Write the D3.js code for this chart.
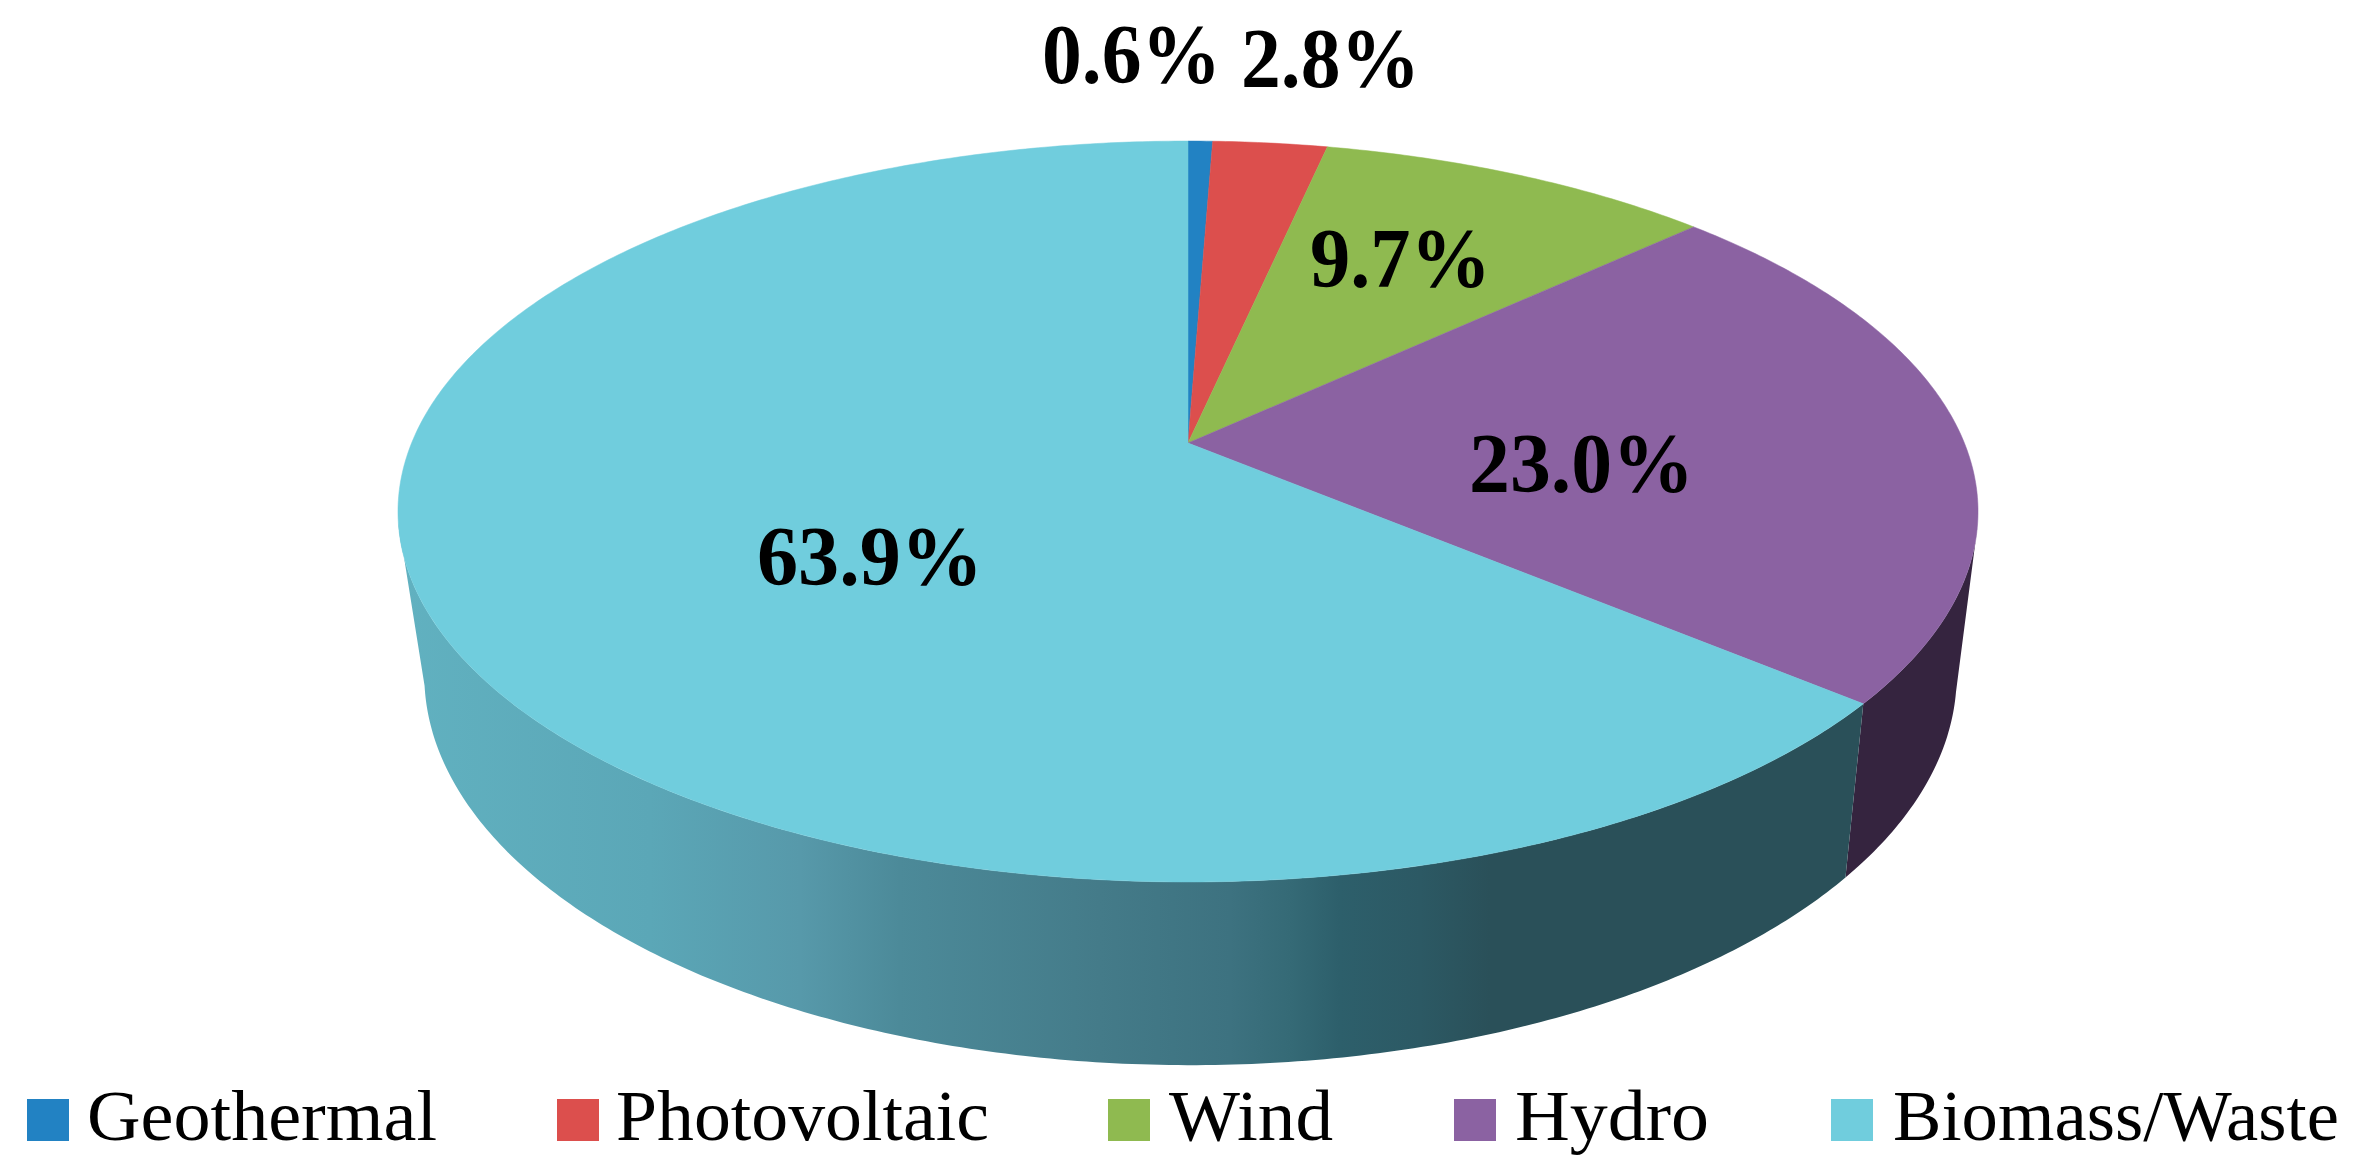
<!DOCTYPE html>
<html>
<head>
<meta charset="utf-8">
<script src="https://cdnjs.cloudflare.com/ajax/libs/d3/7.8.5/d3.min.js"></script>
<style>
  html, body { margin: 0; background: #fff; }
  text { font-family: "Liberation Serif", serif; fill: #000; }
</style>
</head>
<body>
<div id="grafica"></div>
<script>
const sources = ["Geothermal", "Photovoltaic", "Wind", "Hydro", "Biomass/Waste"];
const shares = [0.6, 2.8, 9.7, 23.0, 63.9];
const shareLabels = ["0.6%", "2.8%", "9.7%", "23.0%", "63.9%"];
const topColors = ["#2282c3", "#dc4f4d", "#8fba50", "#8b62a2", "#70cddd"];
const sideColors = ["#134a6e", "#7e2c2b", "#52692d", "#35243f", "url(#sideGrad)"];

// where the labels sit: [left, right, baseline]
const labelBoxes = [[1042, 1221, 83], [1241, 1420, 87], [1310, 1491, 287], [1469, 1694, 492], [757, 983, 585]];
// legend: [swatch left, text left, text right]
const legendBoxes = [[27, 87, 437], [557, 616, 989], [1108, 1169, 1333], [1454, 1515, 1709], [1831, 1893, 2339]];

// shading of the biomass side, left to right
const sideStops = [[400, "#61b1c0"], [650, "#5ba7b7"], [800, "#5799aa"], [900, "#4c8a99"], [1100, "#447b89"], [1230, "#3d7280"], [1290, "#356a76"], [1340, "#2d5f6b"], [1420, "#2c5964"], [1490, "#2a5059"], [1860, "#2a5059"]];

const width = 2353, height = 1171;

const svg = d3.select("#grafica").append("svg")
    .attr("width", width)
    .attr("height", height)
    .style("display", "block");

// the pie is seen in perspective, so a slice angle goes through a projection
const k = 0.1849;
const topDisc = { x: 1188, y: 443, a: 776.4, b: 357.8 };
const bottomDisc = { x: 1190.5, y: 603, a: 753, b: 376.7 };
// part of the rim that faces the viewer
const rimStart = 1.8, rimEnd = 4.5;

function project(disc, angle) {
    const u = Math.sin(angle), v = Math.cos(angle);
    const w = 1 + k * v;
    return [disc.x + disc.a * u / w, disc.y - disc.b * v / w];
}

const pie = d3.pie().sort(null).value(d => d);
const slices = pie(shares);
const line = d3.line();

function arcPoints(disc, a0, a1) {
    const n = Math.max(2, Math.ceil((a1 - a0) / 0.01));
    return d3.range(n + 1).map(i => project(disc, a0 + (a1 - a0) * i / n));
}

const defs = svg.append("defs");
const grad = defs.append("linearGradient")
    .attr("id", "sideGrad")
    .attr("gradientUnits", "userSpaceOnUse")
    .attr("x1", 400).attr("x2", 1860)
    .attr("y1", 0).attr("y2", 0);
grad.selectAll("stop").data(sideStops).enter().append("stop")
    .attr("offset", d => (d[0] - 400) / 1460)
    .attr("stop-color", d => d[1]);

// side wall, the top face covers whatever is hidden
slices.forEach(function(d, i) {
    const a0 = Math.max(d.startAngle, rimStart), a1 = Math.min(d.endAngle, rimEnd);
    if (a1 <= a0) return;
    const pts = arcPoints(topDisc, a0, a1).concat(arcPoints(bottomDisc, a0, a1).reverse());
    svg.append("path")
        .attr("d", line(pts) + "Z")
        .attr("fill", sideColors[i]);
});

// top face
slices.forEach(function(d, i) {
    const pts = [[topDisc.x, topDisc.y]].concat(arcPoints(topDisc, d.startAngle, d.endAngle));
    svg.append("path")
        .attr("d", line(pts) + "Z")
        .attr("fill", topColors[i])
        .attr("stroke", topColors[i])
        .attr("stroke-width", 0.5);
});

// value labels
shareLabels.forEach(function(t, i) {
    const b = labelBoxes[i];
    svg.append("text")
        .attr("x", b[0])
        .attr("y", b[2])
        .attr("font-size", 84)
        .attr("font-weight", "bold")
        .attr("textLength", b[1] - b[0])
        .attr("lengthAdjust", "spacingAndGlyphs")
        .text(t);
});

// legend
sources.forEach(function(t, i) {
    const b = legendBoxes[i];
    svg.append("rect")
        .attr("x", b[0])
        .attr("y", 1099)
        .attr("width", 42)
        .attr("height", 42)
        .attr("fill", topColors[i]);
    svg.append("text")
        .attr("x", b[1])
        .attr("y", 1140)
        .attr("font-size", 71)
        .attr("textLength", b[2] - b[1])
        .attr("lengthAdjust", "spacingAndGlyphs")
        .text(t);
});
</script>
</body>
</html>
